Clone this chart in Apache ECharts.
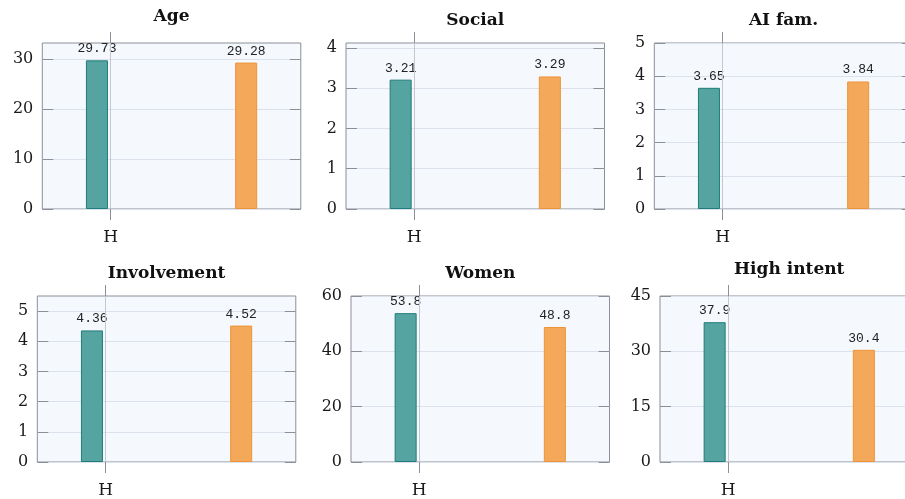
<!DOCTYPE html>
<html>
<head>
<meta charset="utf-8">
<script src="https://cdn.jsdelivr.net/npm/echarts@6/dist/echarts.min.js"></script>
<style>
  html, body { margin: 0; padding: 0; background: #ffffff; }
  #chart { width: 905px; height: 499px; }
</style>
</head>
<body>
<div id="chart"></div>
<script>
// Panel titles and the two group means drawn in each panel
const panelTitles = ['Age', 'Social', 'AI fam.', 'Involvement', 'Women', 'High intent'];
const hValues = [29.73, 3.21, 3.65, 4.36, 53.8, 37.9];
const otherValues = [29.28, 3.29, 3.84, 4.52, 48.8, 30.4];

// Y tick values and upper limit of each panel
const yTicks = [
  [0, 10, 20, 30],
  [0, 1, 2, 3, 4],
  [0, 1, 2, 3, 4, 5],
  [0, 1, 2, 3, 4, 5],
  [0, 20, 40, 60],
  [0, 15, 30, 45]
];
const yMax = [33.2, 4.12, 5, 5.5, 60, 45];

// Group tick label (only the first group is labelled)
const xTickLabels = ['H'];

// ---- layout ----
const FRAME_W = 258.5;
const FRAME_H = 166;
const frames = [
  { left: 42.3, top: 43 },
  { left: 346, top: 43 },
  { left: 654.3, top: 43 },
  { left: 37.3, top: 296 },
  { left: 351, top: 296 },
  { left: 660, top: 296 }
];
const titleMidY = [17, 21, 21, 274, 274, 270];

const SERIF = '"DejaVu Serif", serif';
const MONO = '"Liberation Mono", monospace';
const FRAME_COLOR = '#8a8f98';
const GRID_COLOR = '#dce2eb';
const TEAL = '#56a4a2', TEAL_EDGE = '#1e7d78';
const ORANGE = '#f4a85a', ORANGE_EDGE = '#ee9337';

const grid = [], xAxis = [], yAxis = [], series = [], graphic = [];

frames.forEach((f, i) => {
  grid.push({
    left: f.left, top: f.top, width: FRAME_W, height: FRAME_H,
    show: true, backgroundColor: '#f5f8fc',
    borderColor: FRAME_COLOR, borderWidth: 1,
    containLabel: false, outerBoundsMode: 'none'
  });

  // bottom and top x axes share one scale; each carries the outward tick at H
  const xCommon = {
    gridIndex: i, type: 'value', min: -0.56, max: 1.56,
    axisLine: { show: false, onZero: false },
    splitLine: { show: false },
    axisTick: {
      show: true, inside: false, length: 11, customValues: [0],
      lineStyle: { color: FRAME_COLOR, width: 1 }
    }
  };
  xAxis.push(Object.assign({}, xCommon, {
    position: 'bottom',
    axisLabel: {
      customValues: [0], formatter: v => xTickLabels[v] || '',
      margin: 20, fontFamily: SERIF, fontSize: 17, color: '#1a1a1a'
    }
  }));
  xAxis.push(Object.assign({}, xCommon, {
    position: 'top',
    axisLabel: { show: false }
  }));

  // left and right y axes, ticks pointing into the frame
  const yCommon = {
    gridIndex: i, type: 'value', min: 0, max: yMax[i],
    axisLine: { show: false, onZero: false },
    axisTick: {
      show: true, inside: true, length: 11, customValues: yTicks[i],
      lineStyle: { color: FRAME_COLOR, width: 1 }
    }
  };
  yAxis.push(Object.assign({}, yCommon, {
    position: 'left',
    axisLabel: {
      customValues: yTicks[i], margin: 9,
      fontFamily: SERIF, fontSize: 16, color: '#1a1a1a'
    },
    splitLine: { show: true, lineStyle: { color: GRID_COLOR, width: 1 } }
  }));
  yAxis.push(Object.assign({}, yCommon, {
    position: 'right',
    axisLabel: { show: false },
    splitLine: { show: false }
  }));

  const valueLabel = {
    show: true, position: 'top', distance: 5,
    fontFamily: MONO, fontSize: 13, color: '#222222',
    formatter: p => String(p.value[1])
  };

  // vertical guide through the H position, kept beneath bars and labels
  series.push({
    type: 'line', xAxisIndex: 2 * i, yAxisIndex: 2 * i,
    data: [], silent: true, z: 1,
    markLine: {
      silent: true, symbol: ['none', 'none'], animation: false,
      label: { show: false },
      lineStyle: { color: '#c3c8d0', width: 1, type: 'solid' },
      data: [{ xAxis: 0 }]
    }
  });
  series.push({
    type: 'bar', xAxisIndex: 2 * i, yAxisIndex: 2 * i,
    data: [[0, hValues[i]]], z: 3,
    barWidth: 22, barGap: '24%',
    itemStyle: { color: TEAL, borderColor: TEAL_EDGE, borderWidth: 1 },
    label: valueLabel
  });
  series.push({
    type: 'bar', xAxisIndex: 2 * i, yAxisIndex: 2 * i,
    data: [[1, otherValues[i]]], z: 3,
    barWidth: 22, barGap: '24%',
    itemStyle: { color: ORANGE, borderColor: ORANGE_EDGE, borderWidth: 1 },
    label: valueLabel
  });

  graphic.push({
    type: 'text',
    x: f.left + FRAME_W / 2,
    y: titleMidY[i],
    style: {
      text: panelTitles[i],
      fontFamily: SERIF, fontSize: 17, fontWeight: 'bold',
      fill: '#111111', align: 'center', verticalAlign: 'middle'
    }
  });
});

const chart = echarts.init(document.getElementById('chart'), null, { renderer: 'canvas' });
chart.setOption({
  animation: false,
  backgroundColor: '#ffffff',
  grid, xAxis, yAxis, series, graphic
});
</script>
</body>
</html>
